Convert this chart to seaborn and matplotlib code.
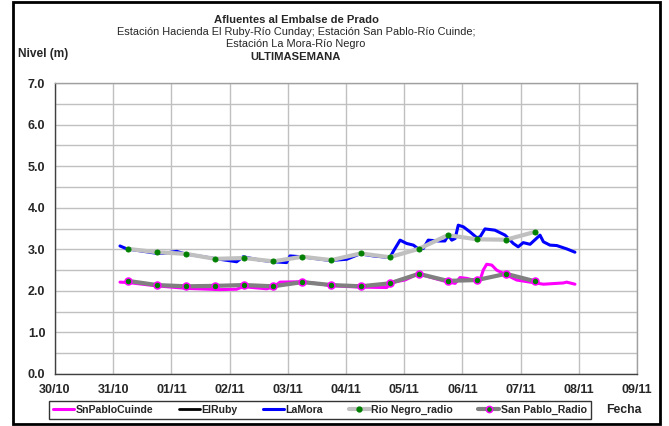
import matplotlib
matplotlib.use("Agg")
import matplotlib.pyplot as plt
import matplotlib.dates as mdates
from matplotlib.lines import Line2D
from matplotlib.patches import Rectangle
import seaborn as sns
import pandas as pd
import numpy as np

# ---------------- data ----------------
start = pd.Timestamp("2013-10-31 00:00")

# SnPabloCuinde (hours after 31/10 00:00, level m)
snp_hours = [2.8, 6.2, 17.9, 30.3, 44, 50.9, 53.6, 63.3, 66, 68.8, 78.4, 90.8, 101.8,
             112.8, 114.8, 120.3, 125.8, 130.6, 137.5, 141, 143, 145.8, 148.5, 151.3,
             152.6, 154, 156.1, 158.1, 162.3, 166.4, 171.9, 177.4, 180.1, 185.6, 187, 190.4]
snp_level = [2.21, 2.20, 2.12, 2.06, 2.03, 2.04, 2.10, 2.05, 2.09, 2.21, 2.22, 2.12, 2.09,
             2.08, 2.20, 2.26, 2.41, 2.33, 2.22, 2.18, 2.32, 2.30, 2.26, 2.26,
             2.50, 2.64, 2.62, 2.50, 2.38, 2.26, 2.21, 2.16, 2.17, 2.19, 2.21, 2.16]

# ElRuby (no data in the week)
ruby_hours = []
ruby_level = []

# LaMora
mora_hours = [2.8, 5.6, 17.2, 20.5, 26.2, 29.6, 42.7, 50.9, 53.6, 60.5, 66, 71.5, 72.9,
              77.7, 89.4, 96.3, 101.8, 107.3, 114.1, 115.5, 118.3, 121, 123.8, 125.8,
              127.9, 129.9, 134.1, 136.8, 138.2, 139.6, 141, 142.3, 144.4, 147.1, 149.9,
              151.3, 153.3, 157.4, 161.6, 165, 167, 169.1, 171.9, 176, 177.4, 180.1,
              182.9, 187, 190.4]
mora_level = [3.08, 3.01, 2.91, 2.90, 2.95, 2.89, 2.77, 2.70, 2.82, 2.74, 2.70, 2.68, 2.84,
              2.82, 2.73, 2.76, 2.89, 2.84, 2.80, 2.95, 3.22, 3.14, 3.10, 3.01,
              3.02, 3.22, 3.20, 3.20, 3.34, 3.22, 3.26, 3.58, 3.54, 3.42, 3.28,
              3.30, 3.49, 3.46, 3.34, 3.14, 3.06, 3.16, 3.12, 3.34, 3.18, 3.10,
              3.09, 3.01, 2.93]

# radio readings every 12 h from 31/10 06:00
radio_hours = [6, 18, 30, 42, 54, 66, 78, 90, 102, 114, 126, 138, 150, 162, 174]
rionegro_radio = [3.01, 2.93, 2.89, 2.77, 2.79, 2.71, 2.82, 2.74, 2.90, 2.81, 3.01,
                  3.34, 3.24, 3.23, 3.42]
sanpablo_radio = [2.24, 2.14, 2.11, 2.12, 2.14, 2.11, 2.21, 2.14, 2.11, 2.18, 2.41,
                  2.24, 2.26, 2.41, 2.23]

x_ticks = pd.date_range("2013-10-30", "2013-11-09", freq="D")

title_lines = ["Afluentes al Embalse de Prado",
               "Estación Hacienda El Ruby-Río Cunday; Estación San Pablo-Río Cuinde;",
               "Estación La Mora-Río Negro",
               "ULTIMASEMANA"]
legend_labels = ["SnPabloCuinde", "ElRuby", "LaMora", "Rio Negro_radio", "San Pablo_Radio"]


def to_df(hours, level):
    return pd.DataFrame({"t": [start + pd.Timedelta(hours=h) for h in hours],
                         "v": level})


# ---------------- style ----------------
sns.set_style("white")
plt.rcParams["font.family"] = ["Liberation Sans", "DejaVu Sans"]

W, H = 669, 426
fig = plt.figure(figsize=(W / 100, H / 100), dpi=100)
ax = fig.add_axes([55 / W, 1 - 374 / H, (637 - 55) / W, (374 - 83) / H])

C_MAG = "#ff00ff"
C_BLUE = "#0000ff"
C_LG = "#c0c0c0"
C_DG = "#808080"
C_GREEN = "#008000"

df_snp = to_df(snp_hours, snp_level)
df_mora = to_df(mora_hours, mora_level)
df_rn = to_df(radio_hours, rionegro_radio)
df_sp = to_df(radio_hours, sanpablo_radio)

sns.lineplot(data=df_snp, x="t", y="v", ax=ax, color=C_MAG, lw=2.2, zorder=3)
if len(ruby_hours):
    sns.lineplot(data=to_df(ruby_hours, ruby_level), x="t", y="v", ax=ax,
                 color="black", lw=2, zorder=3)
sns.lineplot(data=df_mora, x="t", y="v", ax=ax, color=C_BLUE, lw=2.2, zorder=3)
sns.lineplot(data=df_rn, x="t", y="v", ax=ax, color=C_LG, lw=3, zorder=4,
             marker="o", markersize=3.6, markerfacecolor=C_GREEN,
             markeredgecolor=C_GREEN)
sns.lineplot(data=df_sp, x="t", y="v", ax=ax, color=C_DG, lw=3, zorder=4,
             marker="o", markersize=5, markerfacecolor=C_GREEN,
             markeredgecolor=C_MAG, markeredgewidth=1.1)

# axes
ax.set_xlim(x_ticks[0], x_ticks[-1])
ax.set_ylim(0, 7)
ax.set_xticks(x_ticks)
ax.xaxis.set_major_formatter(mdates.DateFormatter("%d/%m"))
ax.set_yticks(np.arange(0, 7.01, 1.0))
ax.set_yticks(np.arange(0.5, 7, 1.0), minor=True)
ax.set_yticklabels([f"{v:.1f}" for v in np.arange(0, 7.01, 1.0)])
ax.grid(True, which="major", color="#c0c0c0", lw=1)
ax.grid(True, which="minor", axis="y", color="#c0c0c0", lw=1)
ax.set_axisbelow(True)
ax.set_xlabel("")
ax.set_ylabel("")
for s in ["top", "right"]:
    ax.spines[s].set_color("#a0a0a0")
    ax.spines[s].set_linewidth(1)
for s in ["left", "bottom"]:
    ax.spines[s].set_color("#404040")
    ax.spines[s].set_linewidth(1)
ax.tick_params(axis="both", which="major", direction="out", length=4, width=1,
               color="#404040", labelsize=9, pad=3)
ax.tick_params(axis="y", which="minor", length=0)
for lab in ax.get_xticklabels() + ax.get_yticklabels():
    lab.set_fontweight("bold")

# titles
cx = 296 / W
fs = 7.9
fig.text(cx, 1 - 20 / H, title_lines[0], ha="center", va="center",
         fontsize=fs + 0.2, fontweight="bold")
fig.text(cx, 1 - 32 / H, title_lines[1], ha="center", va="center", fontsize=fs)
fig.text(cx, 1 - 44 / H, title_lines[2], ha="center", va="center", fontsize=fs)
fig.text(cx, 1 - 57 / H, title_lines[3], ha="center", va="center",
         fontsize=fs + 0.2, fontweight="bold")
fig.text(18 / W, 1 - 54 / H, "Nivel (m)", ha="left", va="center",
         fontsize=8.6, fontweight="bold")
fig.text(606 / W, 1 - 410 / H, "Fecha", ha="left", va="center",
         fontsize=8.8, fontweight="bold")

# legend
handles = [
    Line2D([], [], color=C_MAG, lw=2.2),
    Line2D([], [], color="black", lw=2),
    Line2D([], [], color=C_BLUE, lw=2.2),
    Line2D([], [], color=C_LG, lw=3, marker="o", markersize=3.5,
           markerfacecolor=C_GREEN, markeredgecolor=C_GREEN),
    Line2D([], [], color=C_DG, lw=3, marker="o", markersize=4.5,
           markerfacecolor=C_GREEN, markeredgecolor=C_MAG, markeredgewidth=1.1),
]
leg = fig.legend(handles, legend_labels, loc="center",
                 bbox_to_anchor=(320 / W, 1 - 410 / H), ncol=5,
                 frameon=True, fancybox=False, edgecolor="black",
                 prop={"size": 7.6, "weight": "bold"}, handlelength=2.0,
                 handletextpad=0.15, columnspacing=2.4, borderpad=0.35,
                 borderaxespad=0)
leg.get_frame().set_linewidth(1)

# outer frame
fig.patches.append(Rectangle((13 / W, 2 / H), (660 - 13) / W, (424 - 2) / H,
                             transform=fig.transFigure, fill=False,
                             edgecolor="black", lw=2))

fig.savefig("out.png", dpi=100)
